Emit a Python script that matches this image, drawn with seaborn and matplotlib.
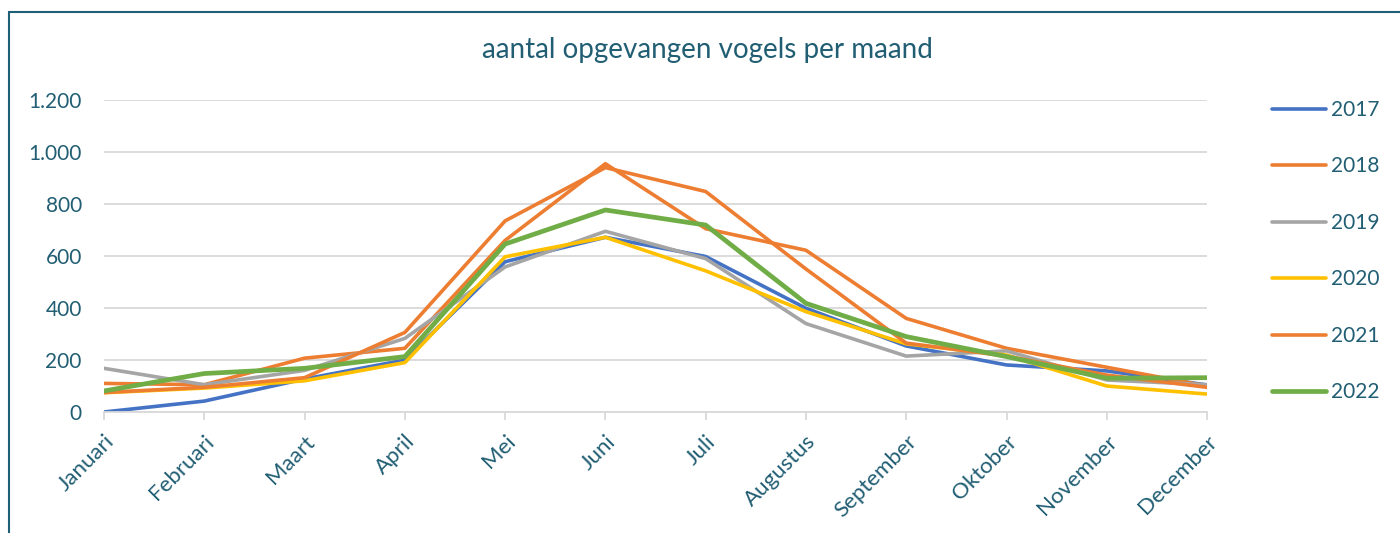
import pandas as pd
import matplotlib.pyplot as plt
import matplotlib.patches as mpatches
import seaborn as sns

# months on the x axis
months = ['Januari', 'Februari', 'Maart', 'April', 'Mei', 'Juni',
          'Juli', 'Augustus', 'September', 'Oktober', 'November', 'December']

# birds per month
y2017 = [0, 42, 127, 200, 578, 672, 598, 399, 254, 181, 158, 104]
y2018 = [110, 105, 207, 245, 660, 955, 705, 622, 360, 245, 172, 100]
y2019 = [168, 105, 160, 283, 558, 695, 590, 340, 215, 235, 123, 105]
y2020 = [74, 92, 120, 190, 597, 672, 543, 386, 262, 219, 100, 69]
y2021 = [75, 95, 132, 306, 735, 940, 848, 550, 265, 215, 142, 95]
y2022 = [81, 148, 168, 213, 646, 777, 719, 418, 290, 213, 130, 132]

years = ['2017', '2018', '2019', '2020', '2021', '2022']
series = [y2017, y2018, y2019, y2020, y2021, y2022]
colors = ['#4472C4', '#ED7D31', '#A5A5A5', '#FFC000', '#ED7D31', '#70AD47']
widths = [2.6, 2.6, 2.6, 2.6, 2.6, 3.4]

text_col = '#215E73'

df = pd.DataFrame({'maand': months * len(years),
                   'pos': list(range(len(months))) * len(years),
                   'jaar': [y for y in years for _ in months],
                   'aantal': [v for s in series for v in s]})

sns.set_style('white')
plt.rcParams['font.family'] = ['Lato', 'DejaVu Sans']

fig = plt.figure(figsize=(14, 5.33), dpi=100)
ax = fig.add_axes([0.0743, 0.227, 0.7879, 0.5854])

for yr, c, lw in zip(years, colors, widths):
    sns.lineplot(data=df[df['jaar'] == yr], x='pos', y='aantal', color=c,
                 linewidth=lw, ax=ax, label=yr, solid_capstyle='round')

ax.set_xlim(0, 11)
ax.set_ylim(0, 1200)
ax.set_yticks(range(0, 1201, 200))
ax.set_yticklabels([f'{v:,}'.replace(',', '.') for v in range(0, 1201, 200)],
                   color=text_col, fontsize=15)
ax.set_xticks(range(len(months)))
ax.set_xticklabels(months, rotation=45, ha='right', rotation_mode='anchor',
                   color=text_col, fontsize=16)
ax.set_xlabel('')
ax.set_ylabel('')
ax.grid(axis='y', color='#D9D9D9', linewidth=1.3)
ax.set_axisbelow(True)
for s in ['top', 'right', 'left']:
    ax.spines[s].set_visible(False)
ax.spines['bottom'].set_color('#D9D9D9')
ax.spines['bottom'].set_linewidth(1.3)
ax.tick_params(axis='x', length=6, width=1.3, color='#D9D9D9', direction='out',
               bottom=True, pad=8)
ax.tick_params(axis='y', length=0, pad=16)

fig.text(707 / 1400, 1 - 50 / 533, 'aantal opgevangen vogels per maand',
         color=text_col, fontsize=20, ha='center', va='center')

leg = ax.legend(loc='upper left', bbox_to_anchor=(1272 / 1400, 1 - 100 / 533),
                bbox_transform=fig.transFigure, frameon=False, fontsize=15,
                labelspacing=1.75, handlelength=2.6, handletextpad=0.25,
                borderaxespad=0, borderpad=0)
for t in leg.get_texts():
    t.set_color(text_col)

# chart border
fig.patches.append(mpatches.Rectangle((9 / 1400, -0.05), 1.1, 1 - 12 / 533 + 0.05,
                                      transform=fig.transFigure, fill=False,
                                      edgecolor='#1F5F7A', linewidth=1.5))

plt.savefig('out.png', dpi=100)
